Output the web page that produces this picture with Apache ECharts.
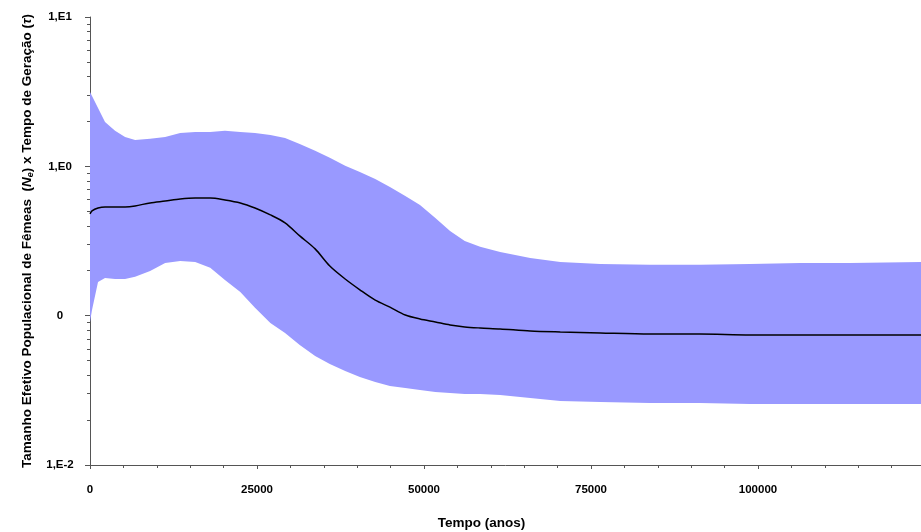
<!DOCTYPE html>
<html>
<head>
<meta charset="utf-8">
<script src="https://cdn.jsdelivr.net/npm/echarts@6/dist/echarts.min.js"></script>
<style>html,body{margin:0;padding:0;background:#fff}#c{width:921px;height:532px}</style>
</head>
<body>
<div id="c"></div>
<script>
// Time (years before present)
const years = [0, 300, 1200, 2250, 3750, 5250, 6750, 9000, 11250, 13500, 15750, 18000, 20200, 22500, 24700, 27000, 29200, 31400, 33700, 35900, 38200, 40400, 42700, 44900, 47200, 49400, 51700, 53900, 56100, 58400, 61400, 65900, 70400, 76400, 83800, 91300, 98800, 106300, 113800, 124400];
// Upper 95% HPD
const upper = [3.15, 2.96, 2.46, 1.98, 1.73, 1.57, 1.50, 1.53, 1.57, 1.67, 1.70, 1.70, 1.73, 1.70, 1.67, 1.62, 1.55, 1.41, 1.27, 1.14, 1.01, 0.917, 0.823, 0.728, 0.633, 0.551, 0.451, 0.369, 0.316, 0.289, 0.267, 0.243, 0.229, 0.222, 0.219, 0.219, 0.222, 0.225, 0.225, 0.229];
// Lower 95% HPD
const lower = [0.0907, 0.109, 0.168, 0.179, 0.176, 0.176, 0.182, 0.199, 0.225, 0.232, 0.229, 0.209, 0.173, 0.144, 0.113, 0.0894, 0.0766, 0.0637, 0.0537, 0.0475, 0.0426, 0.0388, 0.0360, 0.0338, 0.0328, 0.0318, 0.0308, 0.0304, 0.0299, 0.0299, 0.0294, 0.0281, 0.0268, 0.0264, 0.0260, 0.0260, 0.0256, 0.0256, 0.0256, 0.0256];
// Median
const median = [0.480, 0.503, 0.526, 0.535, 0.535, 0.535, 0.543, 0.569, 0.586, 0.605, 0.614, 0.614, 0.596, 0.569, 0.526, 0.473, 0.418, 0.342, 0.280, 0.215, 0.176, 0.149, 0.127, 0.114, 0.101, 0.0950, 0.0907, 0.0866, 0.0840, 0.0827, 0.0815, 0.0790, 0.0778, 0.0766, 0.0754, 0.0754, 0.0743, 0.0743, 0.0743, 0.0743];

const xTickLabels = ['0', '25000', '50000', '75000', '100000'];
const yTickValues = [0.01, 0.1, 1, 10];
const yTickLabels = ['1,E-2', '0', '1,E0', '1,E1'];
const yMinorValues = [0.02,0.03,0.04,0.05,0.06,0.07,0.08,0.09,0.2,0.3,0.4,0.5,0.6,0.7,0.8,0.9,2,3,4,5,6,7,8,9];

const chart = echarts.init(document.getElementById('c'), null, {renderer: 'canvas'});
const font = '"Liberation Sans", Arial, sans-serif';
const axisColor = '#555';

const option = {
  animation: false,
  grid: {left: 90, right: 0, top: 17, bottom: 67, containLabel: false, outerBoundsMode: 'none'},
  xAxis: {
    type: 'value', min: 0, max: 124400, interval: 25000,
    name: 'Tempo (anos)', nameLocation: 'middle', nameGap: 51,
    nameTextStyle: {fontFamily: font, fontWeight: 'bold', fontSize: 13.5, color: '#000', padding: [0, 48, 0, 0]},
    axisLine: {show: true, onZero: false, lineStyle: {color: axisColor, width: 1}},
    axisTick: {show: true, length: 4, lineStyle: {color: axisColor}},
    minorTick: {show: true, splitNumber: 5, length: 3, lineStyle: {color: axisColor}},
    splitLine: {show: false},
    axisLabel: {fontFamily: font, fontWeight: 'bold', fontSize: 11.5, color: '#000', margin: 19,
      showMaxLabel: false,
      formatter: v => { const i = Math.round(v / 25000); return (Math.abs(v - i * 25000) < 1 && i < xTickLabels.length) ? xTickLabels[i] : ''; }}
  },
  yAxis: [{
    type: 'log', logBase: 10, min: 0.01, max: 10,
    name: '{n|Tamanho Efetivo Populacional de Fêmeas  (}{i|N}{s|e}{n|) x Tempo de Geração (}{i|τ}{n|)}',
    nameLocation: 'middle', nameGap: 53,
    nameTextStyle: {
      fontFamily: font, fontWeight: 'bold', fontSize: 13.5, color: '#000',
      rich: {
        n: {fontFamily: font, fontWeight: 'bold', fontSize: 13.5, color: '#000'},
        i: {fontFamily: font, fontWeight: 'bold', fontStyle: 'italic', fontSize: 13.5, color: '#000'},
        s: {fontFamily: font, fontWeight: 'bold', fontStyle: 'italic', fontSize: 9, color: '#000', padding: [7, 0, 0, 0]}
      }
    },
    axisLine: {show: true, onZero: false, lineStyle: {color: axisColor, width: 1}},
    axisTick: {show: true, length: 5, lineStyle: {color: axisColor}},
    splitLine: {show: false},
    axisLabel: {
      fontFamily: font, fontWeight: 'bold', fontSize: 11.5, color: '#000', margin: 30, align: 'center',
      formatter: v => {
        const idx = yTickValues.findIndex(t => Math.abs(Math.log10(t) - Math.log10(v)) < 1e-6);
        return idx >= 0 ? yTickLabels[idx] : '';
      }
    }
  }, {
    type: 'value', min: -2, max: 1, position: 'left',
    axisLine: {show: false, onZero: false},
    axisLabel: {show: false},
    splitLine: {show: false},
    axisTick: {show: true, length: 3, lineStyle: {color: axisColor},
      customValues: yMinorValues.map(v => Math.log10(v))}
  }],
  series: [{
    type: 'custom',
    name: 'HPD',
    xAxisIndex: 0, yAxisIndex: 0,
    clip: true,
    silent: true,
    z: 1,
    data: [[0, 1]],
    renderItem: function (params, api) {
      const pts = [];
      for (let k = 0; k < years.length; k++) pts.push(api.coord([years[k], upper[k]]));
      for (let k = years.length - 1; k >= 0; k--) pts.push(api.coord([years[k], lower[k]]));
      return {type: 'polygon', shape: {points: pts}, style: {fill: '#9999FF', stroke: null}};
    }
  }, {
    type: 'line',
    name: 'Mediana',
    xAxisIndex: 0, yAxisIndex: 0,
    data: years.map((t, k) => [t, median[k]]),
    showSymbol: false,
    smooth: 0.3,
    z: 3,
    lineStyle: {color: '#000', width: 1.5}
  }]
};
chart.setOption(option);
</script>
</body>
</html>
